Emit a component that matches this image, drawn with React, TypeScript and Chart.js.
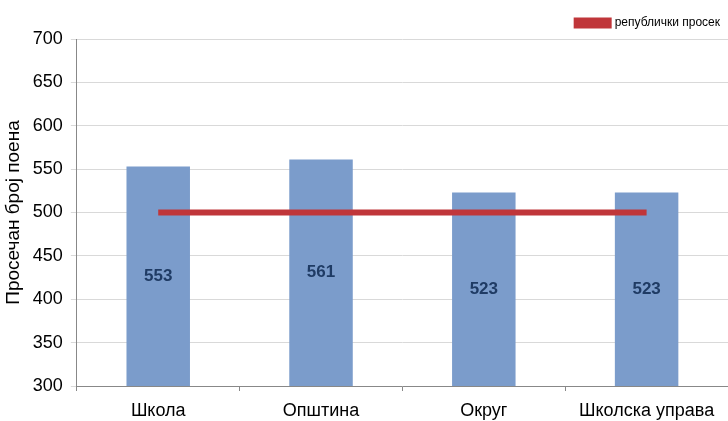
import React, { useEffect, useRef } from "react";
import { Chart, registerables } from "chart.js";

Chart.register(...registerables);

const categories = ["Школа", "Општина", "Округ", "Школска управа"];
const scores = [553, 561, 523, 523];
const nationalAverage = [500, 500, 500, 500];
const yTicks = [300, 350, 400, 450, 500, 550, 600, 650, 700];

const FONT = "'Liberation Sans', Arial, sans-serif";

const barLabelPlugin = {
  id: "barLabels",
  afterDatasetsDraw(chart: any) {
    const meta = chart.getDatasetMeta(0);
    const ctx = chart.ctx;
    const bottom = chart.chartArea.bottom;
    ctx.save();
    ctx.font = `bold 17px ${FONT}`;
    ctx.fillStyle = "#1F3B64";
    ctx.textAlign = "center";
    ctx.textBaseline = "middle";
    meta.data.forEach((bar: any, i: number) => {
      const base = Math.min(bar.base, bottom);
      const mid = (bar.y + base) / 2;
      ctx.fillText(String(scores[i]), bar.x, mid);
    });
    ctx.restore();
  },
};

export default function App() {
  const ref = useRef<HTMLCanvasElement | null>(null);
  useEffect(() => {
    document.body.style.margin = "0";
    const canvas = ref.current!;
    const chart = new Chart(canvas, {
      type: "bar",
      data: {
        labels: categories,
        datasets: [
          {
            type: "bar",
            label: "Школа",
            data: scores,
            backgroundColor: (c: any) => {
              const el = c.element;
              const ctx = c.chart.ctx;
              if (!el || el.x === undefined || !isFinite(el.x)) return "#7B9CCB";
              const w = el.width || 64;
              const g = ctx.createLinearGradient(el.x - w / 2, 0, el.x + w / 2, 0);
              g.addColorStop(0, "#5F82B4");
              g.addColorStop(0.08, "#7E9FCD");
              g.addColorStop(0.92, "#7E9FCD");
              g.addColorStop(1, "#5F82B4");
              return g;
            },
            borderWidth: 0,
            barPercentage: 0.39,
            categoryPercentage: 1,
            order: 2,
          },
          {
            type: "line",
            label: "републички просек",
            data: nationalAverage,
            borderColor: "#C0363A",
            backgroundColor: "#C0363A",
            borderWidth: 6,
            pointRadius: 0,
            fill: false,
            order: 1,
          } as any,
        ],
      },
      options: {
        responsive: false,
        animation: false,
        layout: { padding: { left: 2, right: 0, top: 9, bottom: 0 } },
        plugins: {
          legend: {
            position: "top",
            align: "end",
            labels: {
              filter: (item: any) => item.datasetIndex === 1,
              boxWidth: 32,
              boxHeight: 5,
              padding: 8,
              color: "#000",
              font: { size: 12, family: FONT },
            },
          },
          tooltip: { enabled: false },
        },
        scales: {
          x: {
            offset: true,
            afterFit: (axis: any) => {
              axis.height = 35;
            },
            grid: {
              offset: true,
              drawOnChartArea: false,
              drawTicks: true,
              tickLength: 5,
              color: "#888",
            },
            border: { color: "#888" },
            ticks: {
              color: "#000",
              padding: 12,
              font: { size: 18, family: FONT, lineHeight: 0.9 },
            },
          },
          y: {
            min: 300,
            max: 700,
            afterBuildTicks: (axis: any) => {
              axis.ticks = yTicks.map((v) => ({ value: v }));
            },
            grid: { color: "#D9D9D9", tickLength: 6 },
            border: { color: "#888" },
            ticks: {
              color: "#000",
              padding: 8,
              font: { size: 18, family: FONT },
            },
            title: {
              display: true,
              text: "Просечан број поена",
              color: "#000",
              padding: { top: 0, bottom: 0 },
              font: { size: 19, family: FONT },
            },
          },
        },
      },
      plugins: [barLabelPlugin],
    });
    return () => chart.destroy();
  }, []);
  return (
    <div style={{ width: 728, height: 421 }}>
      <canvas ref={ref} width={728} height={421} style={{ width: 728, height: 421 }} />
    </div>
  );
}
